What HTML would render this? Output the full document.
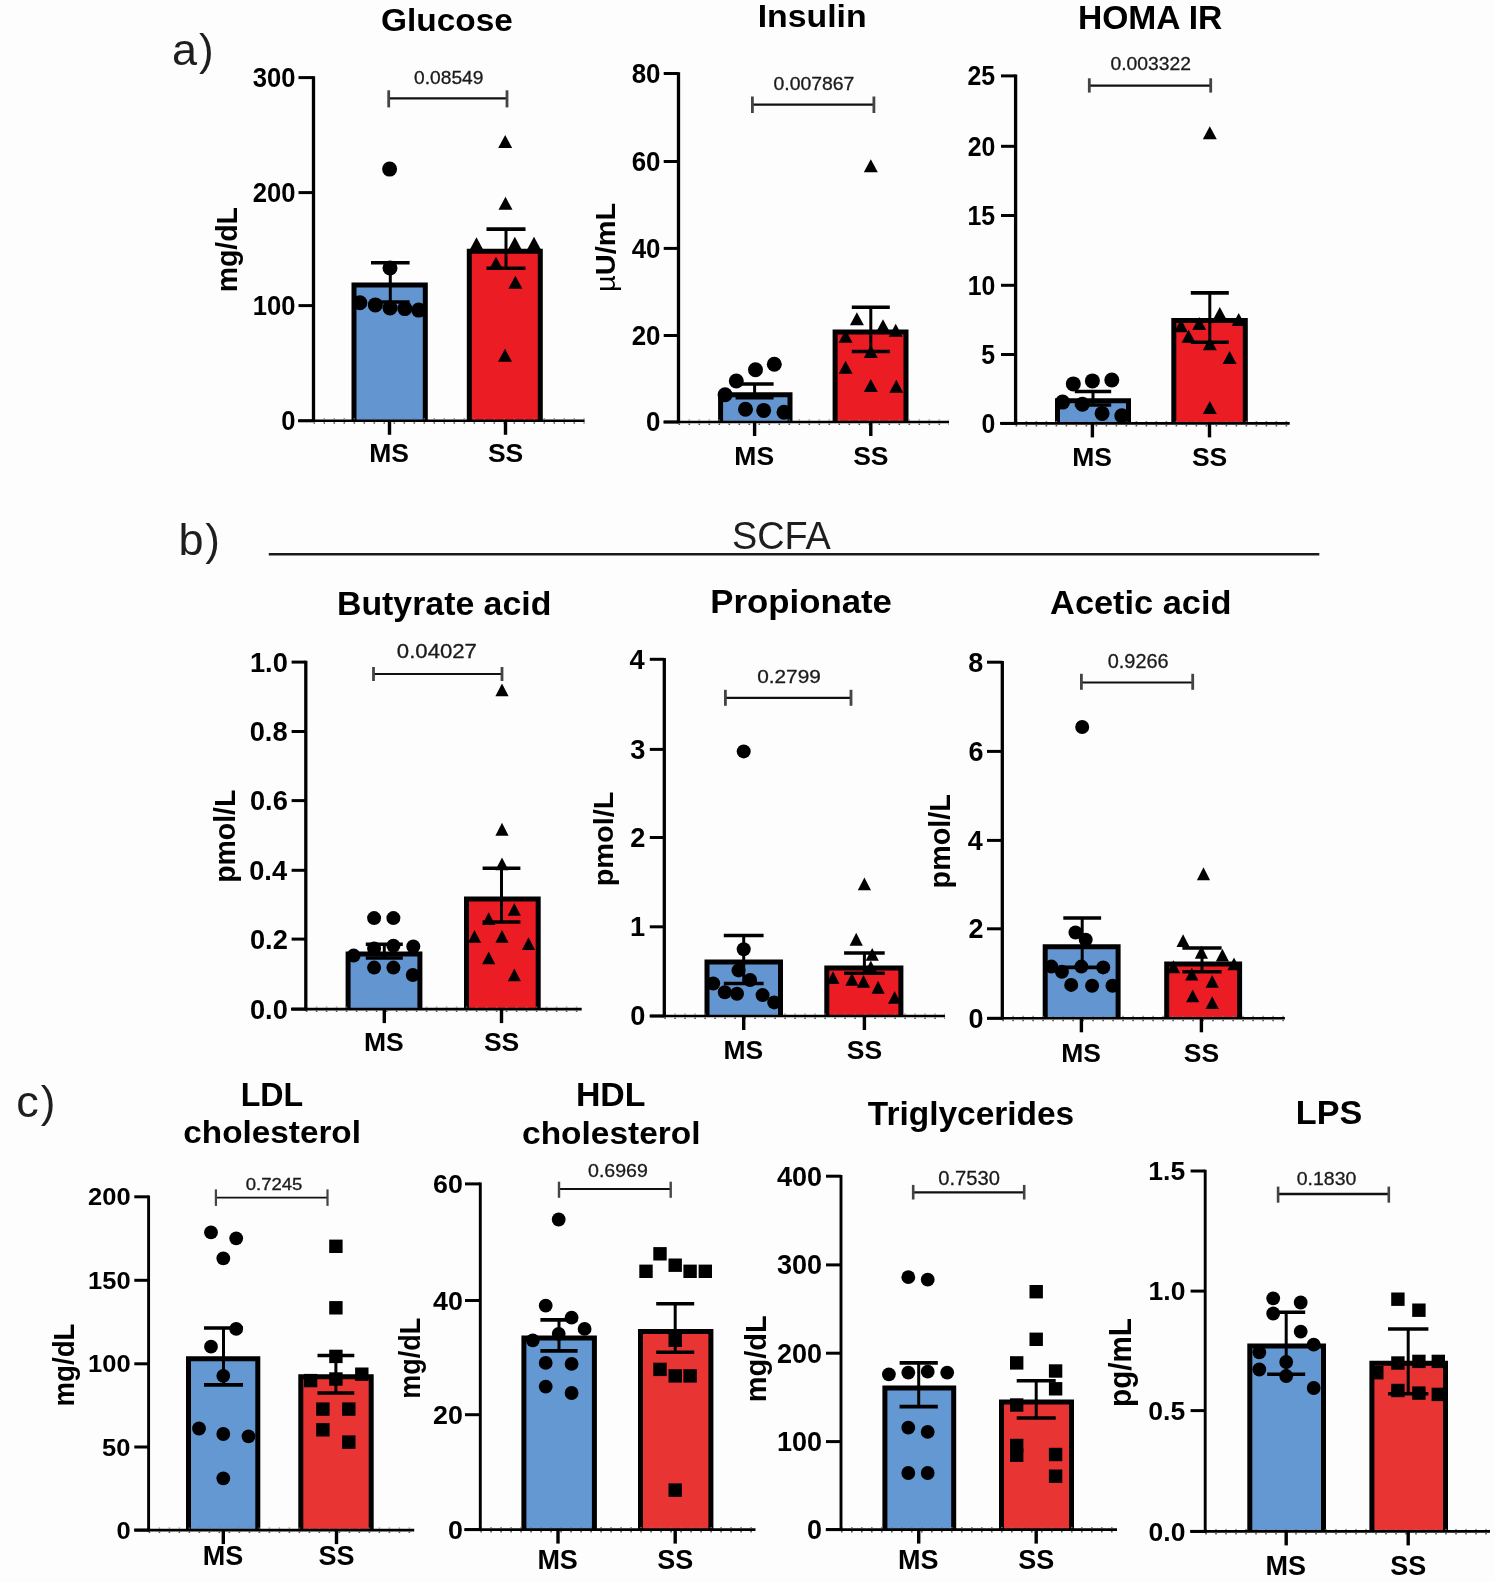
<!DOCTYPE html>
<html><head><meta charset="utf-8"><title>Figure</title>
<style>html,body{margin:0;padding:0;background:#fdfdfd;}body{width:1495px;height:1582px;overflow:hidden;font-family:"Liberation Sans", sans-serif;}svg{display:block;will-change:transform;}</style>
</head><body>
<svg width="1495" height="1582" viewBox="0 0 1495 1582" font-family='"Liberation Sans", sans-serif'>
<rect width="1495" height="1582" fill="#fdfdfd"/>
<text x="172" y="64.6" font-size="45" font-weight="normal" text-anchor="start" fill="#1e1e1e">a</text>
<text x="199" y="64.6" font-size="44" font-weight="normal" text-anchor="start" fill="#1e1e1e">)</text>
<text x="178.6" y="555.2" font-size="45" font-weight="normal" text-anchor="start" fill="#1e1e1e">b</text>
<text x="205.2" y="555.2" font-size="44" font-weight="normal" text-anchor="start" fill="#1e1e1e">)</text>
<text x="16.2" y="1116.6" font-size="45" font-weight="normal" text-anchor="start" fill="#1e1e1e">c</text>
<text x="40.7" y="1116.6" font-size="44" font-weight="normal" text-anchor="start" fill="#1e1e1e">)</text>
<text x="731.99" y="548.8" font-size="38.85" font-weight="normal" fill="#1e1e1e" textLength="98.82" lengthAdjust="spacingAndGlyphs">SCFA</text>
<line x1="268.8" y1="554.2" x2="1319.3" y2="554.2" stroke="#1a1a1a" stroke-width="2.4"/>
<path d="M354 420.8V285H425.3V420.8" fill="#6396d0" stroke="#000" stroke-width="5" stroke-linejoin="miter"/>
<path d="M469.3 420.8V251.3H540.3V420.8" fill="#ec1c24" stroke="#000" stroke-width="5" stroke-linejoin="miter"/>
<line x1="298" y1="420.8" x2="584.6" y2="420.8" stroke="#000" stroke-width="2.6"/>
<line x1="313.5" y1="423" x2="584.6" y2="423" stroke="#555" stroke-width="1.6" stroke-dasharray="1.6 8.4"/>
<line x1="313.5" y1="418.8" x2="584.6" y2="418.8" stroke="#777" stroke-width="1" stroke-dasharray="1.6 8.4"/>
<line x1="313.5" y1="76.3" x2="313.5" y2="422.1" stroke="#000" stroke-width="3.3"/>
<line x1="298.5" y1="77.6" x2="313.5" y2="77.6" stroke="#000" stroke-width="3"/>
<text x="252.7" y="87.05" font-size="27" font-weight="bold" fill="#000" textLength="42.79" lengthAdjust="spacingAndGlyphs">300</text>
<line x1="298.5" y1="192.6" x2="313.5" y2="192.6" stroke="#000" stroke-width="3"/>
<text x="252.7" y="202.05" font-size="27" font-weight="bold" fill="#000" textLength="42.79" lengthAdjust="spacingAndGlyphs">200</text>
<line x1="298.5" y1="305.6" x2="313.5" y2="305.6" stroke="#000" stroke-width="3"/>
<text x="252.7" y="315.05" font-size="27" font-weight="bold" fill="#000" textLength="42.79" lengthAdjust="spacingAndGlyphs">100</text>
<line x1="298.5" y1="420.8" x2="313.5" y2="420.8" stroke="#000" stroke-width="3"/>
<text x="281.2" y="430.25" font-size="27" font-weight="bold" fill="#000" textLength="14.26" lengthAdjust="spacingAndGlyphs">0</text>
<line x1="389.5" y1="420.8" x2="389.5" y2="434.8" stroke="#000" stroke-width="3.4"/>
<text x="369.25" y="462.4" font-size="26.5" font-weight="bold" fill="#000" textLength="39.75" lengthAdjust="spacingAndGlyphs">MS</text>
<line x1="505.5" y1="420.8" x2="505.5" y2="434.8" stroke="#000" stroke-width="3.4"/>
<text x="487.88" y="462.4" font-size="26.5" font-weight="bold" fill="#000" textLength="35.35" lengthAdjust="spacingAndGlyphs">SS</text>
<circle cx="389.6" cy="169.1" r="7.5"/>
<circle cx="390" cy="268" r="7.5"/>
<circle cx="359.9" cy="302.7" r="7.5"/>
<circle cx="375.3" cy="304.9" r="7.5"/>
<circle cx="390" cy="307.9" r="7.5"/>
<circle cx="404.8" cy="308.6" r="7.5"/>
<circle cx="418.7" cy="310.1" r="7.5"/>
<path d="M505.2 135.05L512.2 148.05L498.2 148.05Z"/>
<path d="M505.5 196.85L512.5 209.85L498.5 209.85Z"/>
<path d="M476.5 237.35L483.5 250.35L469.5 250.35Z"/>
<path d="M514.8 236.85L521.8 249.85L507.8 249.85Z"/>
<path d="M534 236.85L541 249.85L527 249.85Z"/>
<path d="M496 256.85L503 269.85L489 269.85Z"/>
<path d="M515.4 275.85L522.4 288.85L508.4 288.85Z"/>
<path d="M505 348.85L512 361.85L498 361.85Z"/>
<line x1="390.3" y1="262.7" x2="390.3" y2="302" stroke="#000" stroke-width="3"/>
<line x1="371" y1="262.7" x2="409.6" y2="262.7" stroke="#000" stroke-width="3.6"/>
<line x1="371" y1="302" x2="409.6" y2="302" stroke="#000" stroke-width="3.6"/>
<line x1="506" y1="229.1" x2="506" y2="268.3" stroke="#000" stroke-width="3"/>
<line x1="486.5" y1="229.1" x2="525.5" y2="229.1" stroke="#000" stroke-width="3.6"/>
<line x1="486.5" y1="268.3" x2="525.5" y2="268.3" stroke="#000" stroke-width="3.6"/>
<line x1="388.7" y1="98.3" x2="507" y2="98.3" stroke="#111" stroke-width="2.2"/>
<line x1="388.7" y1="90.3" x2="388.7" y2="107.4" stroke="#444" stroke-width="2.8"/>
<line x1="507" y1="90.3" x2="507" y2="107.4" stroke="#444" stroke-width="2.8"/>
<text x="414.05" y="83.9" font-size="19.21" font-weight="normal" fill="#1a1a1a" textLength="69.39" lengthAdjust="spacingAndGlyphs" stroke="#1a1a1a" stroke-width="0.3">0.08549</text>
<text x="380.97" y="30.5" font-size="31.45" font-weight="bold" fill="#000" textLength="131.93" lengthAdjust="spacingAndGlyphs">Glucose</text>
<text transform="translate(237 292.33) rotate(-90)" x="0" y="0" font-size="29.52" font-weight="bold" fill="#000" textLength="85.28" lengthAdjust="spacingAndGlyphs">mg/dL</text>
<path d="M720.6 422V394.7H790V422" fill="#6396d0" stroke="#000" stroke-width="5" stroke-linejoin="miter"/>
<path d="M835.1 422V331.9H906V422" fill="#ec1c24" stroke="#000" stroke-width="5" stroke-linejoin="miter"/>
<line x1="663.6" y1="422" x2="949" y2="422" stroke="#000" stroke-width="2.6"/>
<line x1="678.5" y1="424.2" x2="949" y2="424.2" stroke="#555" stroke-width="1.6" stroke-dasharray="1.6 8.4"/>
<line x1="678.5" y1="420" x2="949" y2="420" stroke="#777" stroke-width="1" stroke-dasharray="1.6 8.4"/>
<line x1="678.5" y1="72.2" x2="678.5" y2="423.3" stroke="#000" stroke-width="3.3"/>
<line x1="663.7" y1="73.5" x2="678.5" y2="73.5" stroke="#000" stroke-width="3"/>
<text x="631.66" y="82.95" font-size="27" font-weight="bold" fill="#000" textLength="28.83" lengthAdjust="spacingAndGlyphs">80</text>
<line x1="663.7" y1="161.5" x2="678.5" y2="161.5" stroke="#000" stroke-width="3"/>
<text x="631.66" y="170.95" font-size="27" font-weight="bold" fill="#000" textLength="28.83" lengthAdjust="spacingAndGlyphs">60</text>
<line x1="663.7" y1="248.4" x2="678.5" y2="248.4" stroke="#000" stroke-width="3"/>
<text x="631.66" y="257.85" font-size="27" font-weight="bold" fill="#000" textLength="28.83" lengthAdjust="spacingAndGlyphs">40</text>
<line x1="663.7" y1="335.5" x2="678.5" y2="335.5" stroke="#000" stroke-width="3"/>
<text x="631.66" y="344.95" font-size="27" font-weight="bold" fill="#000" textLength="28.83" lengthAdjust="spacingAndGlyphs">20</text>
<line x1="663.7" y1="422" x2="678.5" y2="422" stroke="#000" stroke-width="3"/>
<text x="646.06" y="431.45" font-size="27" font-weight="bold" fill="#000" textLength="14.41" lengthAdjust="spacingAndGlyphs">0</text>
<line x1="754.6" y1="422" x2="754.6" y2="436" stroke="#000" stroke-width="3.4"/>
<text x="734.35" y="464.5" font-size="26.5" font-weight="bold" fill="#000" textLength="39.75" lengthAdjust="spacingAndGlyphs">MS</text>
<line x1="870.8" y1="422" x2="870.8" y2="436" stroke="#000" stroke-width="3.4"/>
<text x="853.17" y="464.5" font-size="26.5" font-weight="bold" fill="#000" textLength="35.35" lengthAdjust="spacingAndGlyphs">SS</text>
<circle cx="725.1" cy="394.7" r="7.5"/>
<circle cx="736.3" cy="381" r="7.5"/>
<circle cx="755.5" cy="369.8" r="7.5"/>
<circle cx="774.3" cy="364.3" r="7.5"/>
<circle cx="745.5" cy="409.2" r="7.5"/>
<circle cx="763.7" cy="410.4" r="7.5"/>
<circle cx="784" cy="412.3" r="7.5"/>
<path d="M870.8 159.25L877.8 172.25L863.8 172.25Z"/>
<path d="M856.9 312.25L863.9 325.25L849.9 325.25Z"/>
<path d="M883 319.25L890 332.25L876 332.25Z"/>
<path d="M895.7 323.85L902.7 336.85L888.7 336.85Z"/>
<path d="M845.6 329.85L852.6 342.85L838.6 342.85Z"/>
<path d="M870.8 345.05L877.8 358.05L863.8 358.05Z"/>
<path d="M845.6 360.75L852.6 373.75L838.6 373.75Z"/>
<path d="M870.8 379.05L877.8 392.05L863.8 392.05Z"/>
<path d="M896.3 379.85L903.3 392.85L889.3 392.85Z"/>
<line x1="754.6" y1="384" x2="754.6" y2="397.7" stroke="#000" stroke-width="3"/>
<line x1="735.6" y1="384" x2="773.6" y2="384" stroke="#000" stroke-width="3.6"/>
<line x1="735.6" y1="397.7" x2="773.6" y2="397.7" stroke="#000" stroke-width="3.6"/>
<line x1="870.8" y1="307.2" x2="870.8" y2="351.5" stroke="#000" stroke-width="3"/>
<line x1="851.8" y1="307.2" x2="889.8" y2="307.2" stroke="#000" stroke-width="3.6"/>
<line x1="851.8" y1="351.5" x2="889.8" y2="351.5" stroke="#000" stroke-width="3.6"/>
<line x1="752.4" y1="104.7" x2="873.9" y2="104.7" stroke="#111" stroke-width="2.2"/>
<line x1="752.4" y1="96.5" x2="752.4" y2="113" stroke="#444" stroke-width="2.8"/>
<line x1="873.9" y1="96.5" x2="873.9" y2="113" stroke="#444" stroke-width="2.8"/>
<text x="773.47" y="89.6" font-size="17.49" font-weight="normal" fill="#1a1a1a" textLength="80.84" lengthAdjust="spacingAndGlyphs" stroke="#1a1a1a" stroke-width="0.3">0.007867</text>
<text x="757.67" y="26.8" font-size="31.86" font-weight="bold" fill="#000" textLength="108.95" lengthAdjust="spacingAndGlyphs">Insulin</text>
<text transform="translate(615 292) rotate(-90)" x="0" y="0" font-size="26.76" font-weight="bold" fill="#000" textLength="89.25" lengthAdjust="spacingAndGlyphs"><tspan font-weight="normal">µ</tspan>U/mL</text>
<path d="M1057.5 423.4V400.7H1128.5V423.4" fill="#6396d0" stroke="#000" stroke-width="5" stroke-linejoin="miter"/>
<path d="M1173.8 423.4V320.5H1245.3V423.4" fill="#ec1c24" stroke="#000" stroke-width="5" stroke-linejoin="miter"/>
<line x1="1000" y1="423.4" x2="1289.7" y2="423.4" stroke="#000" stroke-width="2.6"/>
<line x1="1015.6" y1="425.6" x2="1289.7" y2="425.6" stroke="#555" stroke-width="1.6" stroke-dasharray="1.6 8.4"/>
<line x1="1015.6" y1="421.4" x2="1289.7" y2="421.4" stroke="#777" stroke-width="1" stroke-dasharray="1.6 8.4"/>
<line x1="1015.6" y1="74.6" x2="1015.6" y2="424.7" stroke="#000" stroke-width="3.3"/>
<line x1="1001" y1="75.9" x2="1015.6" y2="75.9" stroke="#000" stroke-width="3"/>
<text x="967.49" y="85.35" font-size="27" font-weight="bold" fill="#000" textLength="27.63" lengthAdjust="spacingAndGlyphs">25</text>
<line x1="1001" y1="146.3" x2="1015.6" y2="146.3" stroke="#000" stroke-width="3"/>
<text x="967.72" y="155.75" font-size="27" font-weight="bold" fill="#000" textLength="27.63" lengthAdjust="spacingAndGlyphs">20</text>
<line x1="1001" y1="215.5" x2="1015.6" y2="215.5" stroke="#000" stroke-width="3"/>
<text x="967.49" y="224.95" font-size="27" font-weight="bold" fill="#000" textLength="27.63" lengthAdjust="spacingAndGlyphs">15</text>
<line x1="1001" y1="285.3" x2="1015.6" y2="285.3" stroke="#000" stroke-width="3"/>
<text x="967.72" y="294.75" font-size="27" font-weight="bold" fill="#000" textLength="27.63" lengthAdjust="spacingAndGlyphs">10</text>
<line x1="1001" y1="354.5" x2="1015.6" y2="354.5" stroke="#000" stroke-width="3"/>
<text x="981.29" y="363.95" font-size="27" font-weight="bold" fill="#000" textLength="13.81" lengthAdjust="spacingAndGlyphs">5</text>
<line x1="1001" y1="423.4" x2="1015.6" y2="423.4" stroke="#000" stroke-width="3"/>
<text x="981.52" y="432.85" font-size="27" font-weight="bold" fill="#000" textLength="13.81" lengthAdjust="spacingAndGlyphs">0</text>
<line x1="1092.4" y1="423.4" x2="1092.4" y2="437.4" stroke="#000" stroke-width="3.4"/>
<text x="1072.15" y="465.9" font-size="26.5" font-weight="bold" fill="#000" textLength="39.75" lengthAdjust="spacingAndGlyphs">MS</text>
<line x1="1209.5" y1="423.4" x2="1209.5" y2="437.4" stroke="#000" stroke-width="3.4"/>
<text x="1191.88" y="465.9" font-size="26.5" font-weight="bold" fill="#000" textLength="35.35" lengthAdjust="spacingAndGlyphs">SS</text>
<circle cx="1073.3" cy="383.9" r="7.5"/>
<circle cx="1092.4" cy="380.9" r="7.5"/>
<circle cx="1111.8" cy="380" r="7.5"/>
<circle cx="1062.6" cy="402.1" r="7.5"/>
<circle cx="1082.4" cy="404.3" r="7.5"/>
<circle cx="1102.1" cy="413.4" r="7.5"/>
<circle cx="1121.8" cy="415.8" r="7.5"/>
<path d="M1209.8 126.35L1216.8 139.35L1202.8 139.35Z"/>
<path d="M1219.8 306.95L1226.8 319.95L1212.8 319.95Z"/>
<path d="M1238.7 313.05L1245.7 326.05L1231.7 326.05Z"/>
<path d="M1181 319.15L1188 332.15L1174 332.15Z"/>
<path d="M1199.2 316.95L1206.2 329.95L1192.2 329.95Z"/>
<path d="M1188.6 329.75L1195.6 342.75L1181.6 342.75Z"/>
<path d="M1209.8 337.35L1216.8 350.35L1202.8 350.35Z"/>
<path d="M1229.6 350.95L1236.6 363.95L1222.6 363.95Z"/>
<path d="M1209.8 401.05L1216.8 414.05L1202.8 414.05Z"/>
<line x1="1093" y1="391.5" x2="1093" y2="405" stroke="#000" stroke-width="3"/>
<line x1="1074.8" y1="391.5" x2="1111.2" y2="391.5" stroke="#000" stroke-width="3.6"/>
<line x1="1074.8" y1="405" x2="1111.2" y2="405" stroke="#000" stroke-width="3.6"/>
<line x1="1209.8" y1="292.9" x2="1209.8" y2="342.3" stroke="#000" stroke-width="3"/>
<line x1="1190.8" y1="292.9" x2="1228.8" y2="292.9" stroke="#000" stroke-width="3.6"/>
<line x1="1190.8" y1="342.3" x2="1228.8" y2="342.3" stroke="#000" stroke-width="3.6"/>
<line x1="1089.3" y1="85.6" x2="1210.7" y2="85.6" stroke="#111" stroke-width="2.2"/>
<line x1="1089.3" y1="78.3" x2="1089.3" y2="92.6" stroke="#444" stroke-width="2.8"/>
<line x1="1210.7" y1="78.3" x2="1210.7" y2="92.6" stroke="#444" stroke-width="2.8"/>
<text x="1110.41" y="70.4" font-size="18.21" font-weight="normal" fill="#1a1a1a" textLength="80.5" lengthAdjust="spacingAndGlyphs" stroke="#1a1a1a" stroke-width="0.3">0.003322</text>
<text x="1077.93" y="29.1" font-size="33.26" font-weight="bold" fill="#000" textLength="144.32" lengthAdjust="spacingAndGlyphs">HOMA IR</text>
<path d="M348.1 1009.1V953.9H419.9V1009.1" fill="#6396d0" stroke="#000" stroke-width="5" stroke-linejoin="miter"/>
<path d="M466.5 1009.1V899H538.2V1009.1" fill="#ec1c24" stroke="#000" stroke-width="5" stroke-linejoin="miter"/>
<line x1="291" y1="1009.1" x2="581.7" y2="1009.1" stroke="#000" stroke-width="2.6"/>
<line x1="305.8" y1="1011.3" x2="581.7" y2="1011.3" stroke="#555" stroke-width="1.6" stroke-dasharray="1.6 8.4"/>
<line x1="305.8" y1="1007.1" x2="581.7" y2="1007.1" stroke="#777" stroke-width="1" stroke-dasharray="1.6 8.4"/>
<line x1="305.8" y1="660.8" x2="305.8" y2="1010.4" stroke="#000" stroke-width="3.3"/>
<line x1="291.6" y1="662.1" x2="305.8" y2="662.1" stroke="#000" stroke-width="3"/>
<text x="249.94" y="671.55" font-size="27" font-weight="bold" fill="#000" textLength="37.91" lengthAdjust="spacingAndGlyphs">1.0</text>
<line x1="291.6" y1="731.5" x2="305.8" y2="731.5" stroke="#000" stroke-width="3"/>
<text x="249.68" y="740.95" font-size="27" font-weight="bold" fill="#000" textLength="37.91" lengthAdjust="spacingAndGlyphs">0.8</text>
<line x1="291.6" y1="800.6" x2="305.8" y2="800.6" stroke="#000" stroke-width="3"/>
<text x="249.94" y="810.05" font-size="27" font-weight="bold" fill="#000" textLength="37.91" lengthAdjust="spacingAndGlyphs">0.6</text>
<line x1="291.6" y1="870.3" x2="305.8" y2="870.3" stroke="#000" stroke-width="3"/>
<text x="249.18" y="879.75" font-size="27" font-weight="bold" fill="#000" textLength="37.91" lengthAdjust="spacingAndGlyphs">0.4</text>
<line x1="291.6" y1="939.1" x2="305.8" y2="939.1" stroke="#000" stroke-width="3"/>
<text x="249.94" y="948.55" font-size="27" font-weight="bold" fill="#000" textLength="37.91" lengthAdjust="spacingAndGlyphs">0.2</text>
<line x1="291.6" y1="1009.1" x2="305.8" y2="1009.1" stroke="#000" stroke-width="3"/>
<text x="249.94" y="1018.55" font-size="27" font-weight="bold" fill="#000" textLength="37.91" lengthAdjust="spacingAndGlyphs">0.0</text>
<line x1="384.3" y1="1009.1" x2="384.3" y2="1023.1" stroke="#000" stroke-width="3.4"/>
<text x="364.05" y="1050.9" font-size="26.5" font-weight="bold" fill="#000" textLength="39.75" lengthAdjust="spacingAndGlyphs">MS</text>
<line x1="501.5" y1="1009.1" x2="501.5" y2="1023.1" stroke="#000" stroke-width="3.4"/>
<text x="483.88" y="1050.9" font-size="26.5" font-weight="bold" fill="#000" textLength="35.35" lengthAdjust="spacingAndGlyphs">SS</text>
<circle cx="374.1" cy="918.1" r="7"/>
<circle cx="393.4" cy="918.1" r="7"/>
<circle cx="353.6" cy="955.6" r="7"/>
<circle cx="374.1" cy="948.5" r="7"/>
<circle cx="393.4" cy="945.7" r="7"/>
<circle cx="413.3" cy="946.5" r="7"/>
<circle cx="374.1" cy="967.6" r="7"/>
<circle cx="393.4" cy="967.6" r="7"/>
<circle cx="412.8" cy="975" r="7"/>
<path d="M502 683.46L508.6 696.26L495.4 696.26Z"/>
<path d="M502 822.86L508.6 835.66L495.4 835.66Z"/>
<path d="M502 857.56L508.6 870.36L495.4 870.36Z"/>
<path d="M514.3 903.06L520.9 915.86L507.7 915.86Z"/>
<path d="M488.7 912.16L495.3 924.96L482.1 924.96Z"/>
<path d="M474.5 930.06L481.1 942.86L467.9 942.86Z"/>
<path d="M502 930.06L508.6 942.86L495.4 942.86Z"/>
<path d="M528.5 937.26L535.1 950.06L521.9 950.06Z"/>
<path d="M488.7 951.46L495.3 964.26L482.1 964.26Z"/>
<path d="M514.3 968.46L520.9 981.26L507.7 981.26Z"/>
<line x1="384.3" y1="944.2" x2="384.3" y2="958" stroke="#000" stroke-width="3"/>
<line x1="365.8" y1="944.2" x2="402.8" y2="944.2" stroke="#000" stroke-width="3.6"/>
<line x1="365.8" y1="958" x2="402.8" y2="958" stroke="#000" stroke-width="3.6"/>
<line x1="501.5" y1="868.3" x2="501.5" y2="922" stroke="#000" stroke-width="3"/>
<line x1="482.6" y1="868.3" x2="520.4" y2="868.3" stroke="#000" stroke-width="3.6"/>
<line x1="482.6" y1="922" x2="520.4" y2="922" stroke="#000" stroke-width="3.6"/>
<line x1="373.5" y1="674" x2="502" y2="674" stroke="#111" stroke-width="2.2"/>
<line x1="373.5" y1="667" x2="373.5" y2="681" stroke="#444" stroke-width="2.8"/>
<line x1="502" y1="667" x2="502" y2="681" stroke="#444" stroke-width="2.8"/>
<text x="396.88" y="658.4" font-size="20.36" font-weight="normal" fill="#1a1a1a" textLength="80.05" lengthAdjust="spacingAndGlyphs" stroke="#1a1a1a" stroke-width="0.3">0.04027</text>
<text x="336.96" y="615.1" font-size="33.93" font-weight="bold" fill="#000" textLength="214.39" lengthAdjust="spacingAndGlyphs">Butyrate acid</text>
<text transform="translate(235.3 882.78) rotate(-90)" x="0" y="0" font-size="28.83" font-weight="bold" fill="#000" textLength="93.09" lengthAdjust="spacingAndGlyphs">pmol/L</text>
<path d="M707 1016V962.1H780.5V1016" fill="#6396d0" stroke="#000" stroke-width="5" stroke-linejoin="miter"/>
<path d="M826.8 1016V968H900.9V1016" fill="#ec1c24" stroke="#000" stroke-width="5" stroke-linejoin="miter"/>
<line x1="649.8" y1="1016" x2="945" y2="1016" stroke="#000" stroke-width="2.6"/>
<line x1="664.3" y1="1018.2" x2="945" y2="1018.2" stroke="#555" stroke-width="1.6" stroke-dasharray="1.6 8.4"/>
<line x1="664.3" y1="1014" x2="945" y2="1014" stroke="#777" stroke-width="1" stroke-dasharray="1.6 8.4"/>
<line x1="664.3" y1="658" x2="664.3" y2="1017.3" stroke="#000" stroke-width="3.3"/>
<line x1="649.8" y1="659.3" x2="664.3" y2="659.3" stroke="#000" stroke-width="3"/>
<text x="629.6" y="668.75" font-size="27" font-weight="bold" fill="#000" textLength="15.17" lengthAdjust="spacingAndGlyphs">4</text>
<line x1="649.8" y1="749.4" x2="664.3" y2="749.4" stroke="#000" stroke-width="3"/>
<text x="630.36" y="758.85" font-size="27" font-weight="bold" fill="#000" textLength="15.17" lengthAdjust="spacingAndGlyphs">3</text>
<line x1="649.8" y1="837.5" x2="664.3" y2="837.5" stroke="#000" stroke-width="3"/>
<text x="630.36" y="846.95" font-size="27" font-weight="bold" fill="#000" textLength="15.17" lengthAdjust="spacingAndGlyphs">2</text>
<line x1="649.8" y1="926.8" x2="664.3" y2="926.8" stroke="#000" stroke-width="3"/>
<text x="630.11" y="936.25" font-size="27" font-weight="bold" fill="#000" textLength="15.17" lengthAdjust="spacingAndGlyphs">1</text>
<line x1="649.8" y1="1016" x2="664.3" y2="1016" stroke="#000" stroke-width="3"/>
<text x="630.36" y="1025.45" font-size="27" font-weight="bold" fill="#000" textLength="15.17" lengthAdjust="spacingAndGlyphs">0</text>
<line x1="743.7" y1="1016" x2="743.7" y2="1030" stroke="#000" stroke-width="3.4"/>
<text x="723.45" y="1059.1" font-size="26.5" font-weight="bold" fill="#000" textLength="39.75" lengthAdjust="spacingAndGlyphs">MS</text>
<line x1="864.4" y1="1016" x2="864.4" y2="1030" stroke="#000" stroke-width="3.4"/>
<text x="846.77" y="1059.1" font-size="26.5" font-weight="bold" fill="#000" textLength="35.35" lengthAdjust="spacingAndGlyphs">SS</text>
<circle cx="743.7" cy="751.4" r="7"/>
<circle cx="743.7" cy="949.2" r="7"/>
<circle cx="738.5" cy="970.4" r="7"/>
<circle cx="750.1" cy="980" r="7"/>
<circle cx="713.2" cy="983.5" r="7"/>
<circle cx="724.8" cy="992.2" r="7"/>
<circle cx="737" cy="993.7" r="7"/>
<circle cx="762.6" cy="995.1" r="7"/>
<circle cx="774.2" cy="1002.4" r="7"/>
<path d="M864.4 877.56L871 890.36L857.8 890.36Z"/>
<path d="M856.2 932.86L862.8 945.66L849.6 945.66Z"/>
<path d="M872.2 947.96L878.8 960.76L865.6 960.76Z"/>
<path d="M833 971.26L839.6 984.06L826.4 984.06Z"/>
<path d="M851.9 972.96L858.5 985.76L845.3 985.76Z"/>
<path d="M863.5 974.96L870.1 987.76L856.9 987.76Z"/>
<path d="M878.1 980.86L884.7 993.66L871.5 993.66Z"/>
<path d="M894.6 990.96L901.2 1003.76L888 1003.76Z"/>
<path d="M870.8 960.46L877.4 973.26L864.2 973.26Z"/>
<line x1="743.7" y1="935.5" x2="743.7" y2="983.5" stroke="#000" stroke-width="3"/>
<line x1="723.8" y1="935.5" x2="763.6" y2="935.5" stroke="#000" stroke-width="3.6"/>
<line x1="723.8" y1="983.5" x2="763.6" y2="983.5" stroke="#000" stroke-width="3.6"/>
<line x1="864.4" y1="953" x2="864.4" y2="973.3" stroke="#000" stroke-width="3"/>
<line x1="844.1" y1="953" x2="884.7" y2="953" stroke="#000" stroke-width="3.6"/>
<line x1="844.1" y1="973.3" x2="884.7" y2="973.3" stroke="#000" stroke-width="3.6"/>
<line x1="725.4" y1="697.9" x2="851" y2="697.9" stroke="#111" stroke-width="2.2"/>
<line x1="725.4" y1="689.8" x2="725.4" y2="705.8" stroke="#444" stroke-width="2.8"/>
<line x1="851" y1="689.8" x2="851" y2="705.8" stroke="#444" stroke-width="2.8"/>
<text x="757.17" y="682.5" font-size="18.78" font-weight="normal" fill="#1a1a1a" textLength="63.69" lengthAdjust="spacingAndGlyphs" stroke="#1a1a1a" stroke-width="0.3">0.2799</text>
<text x="710.26" y="612.9" font-size="33.38" font-weight="bold" fill="#000" textLength="181.7" lengthAdjust="spacingAndGlyphs">Propionate</text>
<text transform="translate(613.2 886.33) rotate(-90)" x="0" y="0" font-size="28.41" font-weight="bold" fill="#000" textLength="94.75" lengthAdjust="spacingAndGlyphs">pmol/L</text>
<path d="M1045.2 1018.3V946.7H1118.1V1018.3" fill="#6396d0" stroke="#000" stroke-width="5" stroke-linejoin="miter"/>
<path d="M1166.7 1018.3V964.1H1239.6V1018.3" fill="#ec1c24" stroke="#000" stroke-width="5" stroke-linejoin="miter"/>
<line x1="987" y1="1018.3" x2="1284.9" y2="1018.3" stroke="#000" stroke-width="2.6"/>
<line x1="1002.3" y1="1020.5" x2="1284.9" y2="1020.5" stroke="#555" stroke-width="1.6" stroke-dasharray="1.6 8.4"/>
<line x1="1002.3" y1="1016.3" x2="1284.9" y2="1016.3" stroke="#777" stroke-width="1" stroke-dasharray="1.6 8.4"/>
<line x1="1002.3" y1="660.9" x2="1002.3" y2="1019.6" stroke="#000" stroke-width="3.3"/>
<line x1="987" y1="662.2" x2="1002.3" y2="662.2" stroke="#000" stroke-width="3"/>
<text x="968.25" y="671.65" font-size="27" font-weight="bold" fill="#000" textLength="15.02" lengthAdjust="spacingAndGlyphs">8</text>
<line x1="987" y1="751.4" x2="1002.3" y2="751.4" stroke="#000" stroke-width="3"/>
<text x="968.5" y="760.85" font-size="27" font-weight="bold" fill="#000" textLength="15.02" lengthAdjust="spacingAndGlyphs">6</text>
<line x1="987" y1="840.4" x2="1002.3" y2="840.4" stroke="#000" stroke-width="3"/>
<text x="967.75" y="849.85" font-size="27" font-weight="bold" fill="#000" textLength="15.02" lengthAdjust="spacingAndGlyphs">4</text>
<line x1="987" y1="928.8" x2="1002.3" y2="928.8" stroke="#000" stroke-width="3"/>
<text x="968.5" y="938.25" font-size="27" font-weight="bold" fill="#000" textLength="15.02" lengthAdjust="spacingAndGlyphs">2</text>
<line x1="987" y1="1018.3" x2="1002.3" y2="1018.3" stroke="#000" stroke-width="3"/>
<text x="968.5" y="1027.75" font-size="27" font-weight="bold" fill="#000" textLength="15.02" lengthAdjust="spacingAndGlyphs">0</text>
<line x1="1081.4" y1="1018.3" x2="1081.4" y2="1032.3" stroke="#000" stroke-width="3.4"/>
<text x="1061.15" y="1062" font-size="26.5" font-weight="bold" fill="#000" textLength="39.75" lengthAdjust="spacingAndGlyphs">MS</text>
<line x1="1201.4" y1="1018.3" x2="1201.4" y2="1032.3" stroke="#000" stroke-width="3.4"/>
<text x="1183.78" y="1062" font-size="26.5" font-weight="bold" fill="#000" textLength="35.35" lengthAdjust="spacingAndGlyphs">SS</text>
<circle cx="1082.2" cy="727" r="7"/>
<circle cx="1075.5" cy="932.5" r="7"/>
<circle cx="1085.7" cy="939.8" r="7"/>
<circle cx="1051.4" cy="966.6" r="7"/>
<circle cx="1061.9" cy="971.8" r="7"/>
<circle cx="1081.4" cy="966.6" r="7"/>
<circle cx="1103.2" cy="967.4" r="7"/>
<circle cx="1071.2" cy="984.9" r="7"/>
<circle cx="1092.1" cy="985.8" r="7"/>
<circle cx="1112.5" cy="985.8" r="7"/>
<path d="M1203.5 867.36L1210.1 880.16L1196.9 880.16Z"/>
<path d="M1183.1 934.26L1189.7 947.06L1176.5 947.06Z"/>
<path d="M1201.4 945.86L1208 958.66L1194.8 958.66Z"/>
<path d="M1222.4 948.76L1229 961.56L1215.8 961.56Z"/>
<path d="M1234 957.46L1240.6 970.26L1227.4 970.26Z"/>
<path d="M1173.5 960.36L1180.1 973.16L1166.9 973.16Z"/>
<path d="M1191.8 967.66L1198.4 980.46L1185.2 980.46Z"/>
<path d="M1212.2 974.96L1218.8 987.76L1205.6 987.76Z"/>
<path d="M1192.7 989.46L1199.3 1002.26L1186.1 1002.26Z"/>
<path d="M1212.2 996.16L1218.8 1008.96L1205.6 1008.96Z"/>
<line x1="1082.2" y1="918" x2="1082.2" y2="967.4" stroke="#000" stroke-width="3"/>
<line x1="1063.3" y1="918" x2="1101.1" y2="918" stroke="#000" stroke-width="3.6"/>
<line x1="1063.3" y1="967.4" x2="1101.1" y2="967.4" stroke="#000" stroke-width="3.6"/>
<line x1="1202" y1="948" x2="1202" y2="971.8" stroke="#000" stroke-width="3"/>
<line x1="1182.4" y1="948" x2="1221.6" y2="948" stroke="#000" stroke-width="3.6"/>
<line x1="1182.4" y1="971.8" x2="1221.6" y2="971.8" stroke="#000" stroke-width="3.6"/>
<line x1="1081.4" y1="682.5" x2="1192.7" y2="682.5" stroke="#111" stroke-width="2.2"/>
<line x1="1081.4" y1="673.8" x2="1081.4" y2="689.8" stroke="#444" stroke-width="2.8"/>
<line x1="1192.7" y1="673.8" x2="1192.7" y2="689.8" stroke="#444" stroke-width="2.8"/>
<text x="1107.69" y="668" font-size="20.93" font-weight="normal" fill="#1a1a1a" textLength="60.95" lengthAdjust="spacingAndGlyphs" stroke="#1a1a1a" stroke-width="0.3">0.9266</text>
<text x="1050.09" y="614" font-size="33.93" font-weight="bold" fill="#000" textLength="181.42" lengthAdjust="spacingAndGlyphs">Acetic acid</text>
<text transform="translate(950.3 888.4) rotate(-90)" x="0" y="0" font-size="28.83" font-weight="bold" fill="#000" textLength="94.12" lengthAdjust="spacingAndGlyphs">pmol/L</text>
<path d="M188.5 1530.1V1358.7H257.8V1530.1" fill="#6398d2" stroke="#000" stroke-width="5" stroke-linejoin="miter"/>
<path d="M300.8 1530.1V1376.7H371.2V1530.1" fill="#e93434" stroke="#000" stroke-width="5" stroke-linejoin="miter"/>
<line x1="134.3" y1="1530.1" x2="414.2" y2="1530.1" stroke="#000" stroke-width="2.6"/>
<line x1="148.6" y1="1532.3" x2="414.2" y2="1532.3" stroke="#555" stroke-width="1.6" stroke-dasharray="1.6 8.4"/>
<line x1="148.6" y1="1528.1" x2="414.2" y2="1528.1" stroke="#777" stroke-width="1" stroke-dasharray="1.6 8.4"/>
<line x1="148.6" y1="1195.5" x2="148.6" y2="1531.4" stroke="#000" stroke-width="2.9"/>
<line x1="134.3" y1="1196.8" x2="148.6" y2="1196.8" stroke="#000" stroke-width="3"/>
<text x="88.06" y="1205.38" font-size="24.5" font-weight="bold" fill="#000" textLength="42.51" lengthAdjust="spacingAndGlyphs">200</text>
<line x1="134.3" y1="1280.3" x2="148.6" y2="1280.3" stroke="#000" stroke-width="3"/>
<text x="88.06" y="1288.88" font-size="24.5" font-weight="bold" fill="#000" textLength="42.51" lengthAdjust="spacingAndGlyphs">150</text>
<line x1="134.3" y1="1363.8" x2="148.6" y2="1363.8" stroke="#000" stroke-width="3"/>
<text x="88.06" y="1372.38" font-size="24.5" font-weight="bold" fill="#000" textLength="42.51" lengthAdjust="spacingAndGlyphs">100</text>
<line x1="134.3" y1="1447" x2="148.6" y2="1447" stroke="#000" stroke-width="3"/>
<text x="102.1" y="1455.58" font-size="24.5" font-weight="bold" fill="#000" textLength="28.34" lengthAdjust="spacingAndGlyphs">50</text>
<line x1="134.3" y1="1530.1" x2="148.6" y2="1530.1" stroke="#000" stroke-width="3"/>
<text x="116.4" y="1538.67" font-size="24.5" font-weight="bold" fill="#000" textLength="14.17" lengthAdjust="spacingAndGlyphs">0</text>
<line x1="223.3" y1="1530.1" x2="223.3" y2="1544.1" stroke="#000" stroke-width="3.4"/>
<text x="202.68" y="1565.1" font-size="27" font-weight="bold" fill="#000" textLength="40.5" lengthAdjust="spacingAndGlyphs">MS</text>
<line x1="336.5" y1="1530.1" x2="336.5" y2="1544.1" stroke="#000" stroke-width="3.4"/>
<text x="318.62" y="1565.1" font-size="27" font-weight="bold" fill="#000" textLength="36.02" lengthAdjust="spacingAndGlyphs">SS</text>
<circle cx="211" cy="1232.4" r="6.9"/>
<circle cx="236.2" cy="1238.3" r="6.9"/>
<circle cx="223.3" cy="1258.3" r="6.9"/>
<circle cx="236.2" cy="1328.9" r="6.9"/>
<circle cx="211" cy="1346.7" r="6.9"/>
<circle cx="223.3" cy="1375.8" r="6.9"/>
<circle cx="199" cy="1428.5" r="6.9"/>
<circle cx="223.3" cy="1434" r="6.9"/>
<circle cx="248.5" cy="1436.3" r="6.9"/>
<circle cx="223.3" cy="1478.3" r="6.9"/>
<rect x="329.2" y="1239.6" width="13.4" height="13.4"/>
<rect x="329.2" y="1301.1" width="13.4" height="13.4"/>
<rect x="329.2" y="1349.7" width="13.4" height="13.4"/>
<rect x="355.1" y="1367.5" width="13.4" height="13.4"/>
<rect x="303.9" y="1373.9" width="13.4" height="13.4"/>
<rect x="329.2" y="1372.3" width="13.4" height="13.4"/>
<rect x="316.2" y="1402.4" width="13.4" height="13.4"/>
<rect x="342.1" y="1402.4" width="13.4" height="13.4"/>
<rect x="316.2" y="1423.1" width="13.4" height="13.4"/>
<rect x="342.1" y="1435.4" width="13.4" height="13.4"/>
<line x1="223.5" y1="1328" x2="223.5" y2="1384.9" stroke="#000" stroke-width="3"/>
<line x1="204" y1="1328" x2="243" y2="1328" stroke="#000" stroke-width="3.6"/>
<line x1="204" y1="1384.9" x2="243" y2="1384.9" stroke="#000" stroke-width="3.6"/>
<line x1="335.9" y1="1355.5" x2="335.9" y2="1393" stroke="#000" stroke-width="3"/>
<line x1="317.5" y1="1355.5" x2="354.3" y2="1355.5" stroke="#000" stroke-width="3.6"/>
<line x1="317.5" y1="1393" x2="354.3" y2="1393" stroke="#000" stroke-width="3.6"/>
<line x1="215.9" y1="1197.6" x2="327.5" y2="1197.6" stroke="#111" stroke-width="1.8"/>
<line x1="215.9" y1="1189.4" x2="215.9" y2="1205.9" stroke="#444" stroke-width="2.2"/>
<line x1="327.5" y1="1189.4" x2="327.5" y2="1205.9" stroke="#444" stroke-width="2.2"/>
<text x="245.75" y="1189.7" font-size="16.2" font-weight="normal" fill="#1a1a1a" textLength="56.67" lengthAdjust="spacingAndGlyphs" stroke="#1a1a1a" stroke-width="0.3">0.7245</text>
<text x="240.74" y="1106" font-size="33.45" font-weight="bold" fill="#000" textLength="62.5" lengthAdjust="spacingAndGlyphs">LDL</text>
<text x="183.37" y="1143.2" font-size="31.31" font-weight="bold" fill="#000" textLength="177.6" lengthAdjust="spacingAndGlyphs">cholesterol</text>
<text transform="translate(74.1 1406.52) rotate(-90)" x="0" y="0" font-size="28.83" font-weight="bold" fill="#000" textLength="82.93" lengthAdjust="spacingAndGlyphs">mg/dL</text>
<path d="M523.9 1529.6V1337.9H594.4V1529.6" fill="#6398d2" stroke="#000" stroke-width="5" stroke-linejoin="miter"/>
<path d="M640.5 1529.6V1331.4H710.9V1529.6" fill="#e93434" stroke="#000" stroke-width="5" stroke-linejoin="miter"/>
<line x1="464.2" y1="1529.6" x2="755.5" y2="1529.6" stroke="#000" stroke-width="2.6"/>
<line x1="480.3" y1="1531.8" x2="755.5" y2="1531.8" stroke="#555" stroke-width="1.6" stroke-dasharray="1.6 8.4"/>
<line x1="480.3" y1="1527.6" x2="755.5" y2="1527.6" stroke="#777" stroke-width="1" stroke-dasharray="1.6 8.4"/>
<line x1="480.3" y1="1182.6" x2="480.3" y2="1530.9" stroke="#000" stroke-width="2.9"/>
<line x1="465" y1="1183.9" x2="480.3" y2="1183.9" stroke="#000" stroke-width="3"/>
<text x="433.06" y="1193" font-size="26" font-weight="bold" fill="#000" textLength="29.79" lengthAdjust="spacingAndGlyphs">60</text>
<line x1="465" y1="1300.5" x2="480.3" y2="1300.5" stroke="#000" stroke-width="3"/>
<text x="433.06" y="1309.6" font-size="26" font-weight="bold" fill="#000" textLength="29.79" lengthAdjust="spacingAndGlyphs">40</text>
<line x1="465" y1="1414.7" x2="480.3" y2="1414.7" stroke="#000" stroke-width="3"/>
<text x="433.06" y="1423.8" font-size="26" font-weight="bold" fill="#000" textLength="29.79" lengthAdjust="spacingAndGlyphs">20</text>
<line x1="465" y1="1529.6" x2="480.3" y2="1529.6" stroke="#000" stroke-width="3"/>
<text x="448" y="1538.7" font-size="26" font-weight="bold" fill="#000" textLength="14.89" lengthAdjust="spacingAndGlyphs">0</text>
<line x1="558" y1="1529.6" x2="558" y2="1543.6" stroke="#000" stroke-width="3.4"/>
<text x="537.38" y="1568.5" font-size="27" font-weight="bold" fill="#000" textLength="40.5" lengthAdjust="spacingAndGlyphs">MS</text>
<line x1="675.2" y1="1529.6" x2="675.2" y2="1543.6" stroke="#000" stroke-width="3.4"/>
<text x="657.33" y="1568.5" font-size="27" font-weight="bold" fill="#000" textLength="36.02" lengthAdjust="spacingAndGlyphs">SS</text>
<circle cx="558.7" cy="1219.5" r="6.9"/>
<circle cx="545.7" cy="1305.6" r="6.9"/>
<circle cx="571.6" cy="1317.6" r="6.9"/>
<circle cx="584.6" cy="1328.9" r="6.9"/>
<circle cx="558.7" cy="1333.8" r="6.9"/>
<circle cx="532.8" cy="1340.3" r="6.9"/>
<circle cx="545.7" cy="1362.9" r="6.9"/>
<circle cx="571.6" cy="1363.9" r="6.9"/>
<circle cx="545.7" cy="1386.6" r="6.9"/>
<circle cx="571.6" cy="1393" r="6.9"/>
<rect x="653.3" y="1247.1" width="13.4" height="13.4"/>
<rect x="639.3" y="1264.6" width="13.4" height="13.4"/>
<rect x="668.5" y="1258.5" width="13.4" height="13.4"/>
<rect x="683.4" y="1264.6" width="13.4" height="13.4"/>
<rect x="698.6" y="1264.6" width="13.4" height="13.4"/>
<rect x="668.5" y="1333.6" width="13.4" height="13.4"/>
<rect x="653.3" y="1362.7" width="13.4" height="13.4"/>
<rect x="668.5" y="1369.2" width="13.4" height="13.4"/>
<rect x="683.4" y="1369.2" width="13.4" height="13.4"/>
<rect x="668.5" y="1483.4" width="13.4" height="13.4"/>
<line x1="559" y1="1319.9" x2="559" y2="1350.9" stroke="#000" stroke-width="3"/>
<line x1="540.4" y1="1319.9" x2="577.6" y2="1319.9" stroke="#000" stroke-width="3.6"/>
<line x1="540.4" y1="1350.9" x2="577.6" y2="1350.9" stroke="#000" stroke-width="3.6"/>
<line x1="675.2" y1="1303.7" x2="675.2" y2="1352.2" stroke="#000" stroke-width="3"/>
<line x1="656.2" y1="1303.7" x2="694.2" y2="1303.7" stroke="#000" stroke-width="3.6"/>
<line x1="656.2" y1="1352.2" x2="694.2" y2="1352.2" stroke="#000" stroke-width="3.6"/>
<line x1="559" y1="1189.1" x2="670.7" y2="1189.1" stroke="#111" stroke-width="2"/>
<line x1="559" y1="1181.7" x2="559" y2="1197.8" stroke="#444" stroke-width="2.4"/>
<line x1="670.7" y1="1181.7" x2="670.7" y2="1197.8" stroke="#444" stroke-width="2.4"/>
<text x="588.01" y="1176.8" font-size="18.49" font-weight="normal" fill="#1a1a1a" textLength="59.88" lengthAdjust="spacingAndGlyphs" stroke="#1a1a1a" stroke-width="0.3">0.6969</text>
<text x="575.91" y="1105.8" font-size="33.16" font-weight="bold" fill="#000" textLength="69.59" lengthAdjust="spacingAndGlyphs">HDL</text>
<text x="522.08" y="1143.5" font-size="31.72" font-weight="bold" fill="#000" textLength="178.42" lengthAdjust="spacingAndGlyphs">cholesterol</text>
<text transform="translate(419.6 1398.63) rotate(-90)" x="0" y="0" font-size="29.38" font-weight="bold" fill="#000" textLength="80.93" lengthAdjust="spacingAndGlyphs">mg/dL</text>
<path d="M884.9 1529.6V1388.1H953.7V1529.6" fill="#6398d2" stroke="#000" stroke-width="5" stroke-linejoin="miter"/>
<path d="M1001.5 1529.6V1402H1071.5V1529.6" fill="#e93434" stroke="#000" stroke-width="5" stroke-linejoin="miter"/>
<line x1="825.8" y1="1529.6" x2="1117" y2="1529.6" stroke="#000" stroke-width="2.6"/>
<line x1="841" y1="1531.8" x2="1117" y2="1531.8" stroke="#555" stroke-width="1.6" stroke-dasharray="1.6 8.4"/>
<line x1="841" y1="1527.6" x2="1117" y2="1527.6" stroke="#777" stroke-width="1" stroke-dasharray="1.6 8.4"/>
<line x1="841" y1="1174.9" x2="841" y2="1530.9" stroke="#000" stroke-width="2.9"/>
<line x1="826" y1="1176.2" x2="841" y2="1176.2" stroke="#000" stroke-width="3"/>
<text x="777" y="1185.65" font-size="27" font-weight="bold" fill="#000" textLength="45.05" lengthAdjust="spacingAndGlyphs">400</text>
<line x1="826" y1="1264.9" x2="841" y2="1264.9" stroke="#000" stroke-width="3"/>
<text x="777" y="1274.35" font-size="27" font-weight="bold" fill="#000" textLength="45.05" lengthAdjust="spacingAndGlyphs">300</text>
<line x1="826" y1="1353.2" x2="841" y2="1353.2" stroke="#000" stroke-width="3"/>
<text x="777" y="1362.65" font-size="27" font-weight="bold" fill="#000" textLength="45.05" lengthAdjust="spacingAndGlyphs">200</text>
<line x1="826" y1="1441.6" x2="841" y2="1441.6" stroke="#000" stroke-width="3"/>
<text x="777" y="1451.05" font-size="27" font-weight="bold" fill="#000" textLength="45.05" lengthAdjust="spacingAndGlyphs">100</text>
<line x1="826" y1="1529.6" x2="841" y2="1529.6" stroke="#000" stroke-width="3"/>
<text x="807" y="1539.05" font-size="27" font-weight="bold" fill="#000" textLength="15.02" lengthAdjust="spacingAndGlyphs">0</text>
<line x1="918.7" y1="1529.6" x2="918.7" y2="1543.6" stroke="#000" stroke-width="3.4"/>
<text x="898.08" y="1568.5" font-size="27" font-weight="bold" fill="#000" textLength="40.5" lengthAdjust="spacingAndGlyphs">MS</text>
<line x1="1036.2" y1="1529.6" x2="1036.2" y2="1543.6" stroke="#000" stroke-width="3.4"/>
<text x="1018.33" y="1568.5" font-size="27" font-weight="bold" fill="#000" textLength="36.02" lengthAdjust="spacingAndGlyphs">SS</text>
<circle cx="908.3" cy="1277.2" r="6.9"/>
<circle cx="927.7" cy="1279.7" r="6.9"/>
<circle cx="888.9" cy="1374.3" r="6.9"/>
<circle cx="908.3" cy="1372.6" r="6.9"/>
<circle cx="927.7" cy="1371.7" r="6.9"/>
<circle cx="947.2" cy="1372.6" r="6.9"/>
<circle cx="908.3" cy="1427.7" r="6.9"/>
<circle cx="927.7" cy="1431.9" r="6.9"/>
<circle cx="908.3" cy="1473" r="6.9"/>
<circle cx="927.7" cy="1473" r="6.9"/>
<rect x="1029.5" y="1285" width="13.4" height="13.4"/>
<rect x="1029.5" y="1332.6" width="13.4" height="13.4"/>
<rect x="1010" y="1356.2" width="13.4" height="13.4"/>
<rect x="1048.9" y="1364.3" width="13.4" height="13.4"/>
<rect x="1048.9" y="1382.1" width="13.4" height="13.4"/>
<rect x="1010" y="1398.3" width="13.4" height="13.4"/>
<rect x="1010" y="1438.8" width="13.4" height="13.4"/>
<rect x="1010" y="1448.5" width="13.4" height="13.4"/>
<rect x="1048.9" y="1447.8" width="13.4" height="13.4"/>
<rect x="1048.9" y="1469.5" width="13.4" height="13.4"/>
<line x1="918.7" y1="1362.9" x2="918.7" y2="1406.6" stroke="#000" stroke-width="3"/>
<line x1="899.6" y1="1362.9" x2="937.8" y2="1362.9" stroke="#000" stroke-width="3.6"/>
<line x1="899.6" y1="1406.6" x2="937.8" y2="1406.6" stroke="#000" stroke-width="3.6"/>
<line x1="1036.2" y1="1380.7" x2="1036.2" y2="1418" stroke="#000" stroke-width="3"/>
<line x1="1016.7" y1="1380.7" x2="1055.7" y2="1380.7" stroke="#000" stroke-width="3.6"/>
<line x1="1016.7" y1="1418" x2="1055.7" y2="1418" stroke="#000" stroke-width="3.6"/>
<line x1="913.2" y1="1192.3" x2="1024.2" y2="1192.3" stroke="#111" stroke-width="2.2"/>
<line x1="913.2" y1="1184.9" x2="913.2" y2="1199.5" stroke="#444" stroke-width="2.6"/>
<line x1="1024.2" y1="1184.9" x2="1024.2" y2="1199.5" stroke="#444" stroke-width="2.6"/>
<text x="938.28" y="1184.9" font-size="20.93" font-weight="normal" fill="#1a1a1a" textLength="61.66" lengthAdjust="spacingAndGlyphs" stroke="#1a1a1a" stroke-width="0.3">0.7530</text>
<text x="867.85" y="1125.3" font-size="33.52" font-weight="bold" fill="#000" textLength="206.3" lengthAdjust="spacingAndGlyphs">Triglycerides</text>
<text transform="translate(765.9 1402.32) rotate(-90)" x="0" y="0" font-size="28.69" font-weight="bold" fill="#000" textLength="86.96" lengthAdjust="spacingAndGlyphs">mg/dL</text>
<path d="M1249.8 1531.4V1346.1H1323.5V1531.4" fill="#6398d2" stroke="#000" stroke-width="5" stroke-linejoin="miter"/>
<path d="M1371.9 1531.4V1363.2H1445.5V1531.4" fill="#e93434" stroke="#000" stroke-width="5" stroke-linejoin="miter"/>
<line x1="1190.2" y1="1531.4" x2="1490" y2="1531.4" stroke="#000" stroke-width="2.6"/>
<line x1="1205.2" y1="1533.6" x2="1490" y2="1533.6" stroke="#555" stroke-width="1.6" stroke-dasharray="1.6 8.4"/>
<line x1="1205.2" y1="1529.4" x2="1490" y2="1529.4" stroke="#777" stroke-width="1" stroke-dasharray="1.6 8.4"/>
<line x1="1205.2" y1="1169.7" x2="1205.2" y2="1532.7" stroke="#000" stroke-width="2.9"/>
<line x1="1190.6" y1="1171" x2="1205.2" y2="1171" stroke="#000" stroke-width="3"/>
<text x="1148.39" y="1180.1" font-size="26" font-weight="bold" fill="#000" textLength="36.87" lengthAdjust="spacingAndGlyphs">1.5</text>
<line x1="1190.6" y1="1291.1" x2="1205.2" y2="1291.1" stroke="#000" stroke-width="3"/>
<text x="1148.64" y="1300.2" font-size="26" font-weight="bold" fill="#000" textLength="36.87" lengthAdjust="spacingAndGlyphs">1.0</text>
<line x1="1190.6" y1="1410.6" x2="1205.2" y2="1410.6" stroke="#000" stroke-width="3"/>
<text x="1148.39" y="1419.7" font-size="26" font-weight="bold" fill="#000" textLength="36.87" lengthAdjust="spacingAndGlyphs">0.5</text>
<line x1="1190.6" y1="1531.4" x2="1205.2" y2="1531.4" stroke="#000" stroke-width="3"/>
<text x="1148.64" y="1540.5" font-size="26" font-weight="bold" fill="#000" textLength="36.87" lengthAdjust="spacingAndGlyphs">0.0</text>
<line x1="1286.2" y1="1531.4" x2="1286.2" y2="1545.4" stroke="#000" stroke-width="3.4"/>
<text x="1265.58" y="1575" font-size="27" font-weight="bold" fill="#000" textLength="40.5" lengthAdjust="spacingAndGlyphs">MS</text>
<line x1="1408.2" y1="1531.4" x2="1408.2" y2="1545.4" stroke="#000" stroke-width="3.4"/>
<text x="1390.33" y="1575" font-size="27" font-weight="bold" fill="#000" textLength="36.02" lengthAdjust="spacingAndGlyphs">SS</text>
<circle cx="1273.2" cy="1298.3" r="6.9"/>
<circle cx="1300.7" cy="1302.5" r="6.9"/>
<circle cx="1273.2" cy="1313.5" r="6.9"/>
<circle cx="1300.7" cy="1331.6" r="6.9"/>
<circle cx="1313.7" cy="1344.6" r="6.9"/>
<circle cx="1259.3" cy="1352.3" r="6.9"/>
<circle cx="1286.2" cy="1362" r="6.9"/>
<circle cx="1259.3" cy="1369.5" r="6.9"/>
<circle cx="1286.2" cy="1376" r="6.9"/>
<circle cx="1313.7" cy="1388" r="6.9"/>
<rect x="1391.2" y="1292.5" width="13.4" height="13.4"/>
<rect x="1412.2" y="1303.5" width="13.4" height="13.4"/>
<rect x="1370.1" y="1366" width="13.4" height="13.4"/>
<rect x="1391.2" y="1356.3" width="13.4" height="13.4"/>
<rect x="1412.2" y="1354.7" width="13.4" height="13.4"/>
<rect x="1431.6" y="1354.7" width="13.4" height="13.4"/>
<rect x="1391.2" y="1383.8" width="13.4" height="13.4"/>
<rect x="1412.2" y="1386.4" width="13.4" height="13.4"/>
<rect x="1431.6" y="1387.7" width="13.4" height="13.4"/>
<line x1="1286.2" y1="1312.2" x2="1286.2" y2="1374.3" stroke="#000" stroke-width="3"/>
<line x1="1267.2" y1="1312.2" x2="1305.2" y2="1312.2" stroke="#000" stroke-width="3.6"/>
<line x1="1267.2" y1="1374.3" x2="1305.2" y2="1374.3" stroke="#000" stroke-width="3.6"/>
<line x1="1408.2" y1="1329" x2="1408.2" y2="1393.8" stroke="#000" stroke-width="3"/>
<line x1="1388" y1="1329" x2="1428.4" y2="1329" stroke="#000" stroke-width="3.6"/>
<line x1="1388" y1="1393.8" x2="1428.4" y2="1393.8" stroke="#000" stroke-width="3.6"/>
<line x1="1278.1" y1="1194" x2="1388.8" y2="1194" stroke="#111" stroke-width="2.4"/>
<line x1="1278.1" y1="1186.6" x2="1278.1" y2="1202.7" stroke="#444" stroke-width="2.6"/>
<line x1="1388.8" y1="1186.6" x2="1388.8" y2="1202.7" stroke="#444" stroke-width="2.6"/>
<text x="1296.72" y="1185" font-size="18.64" font-weight="normal" fill="#1a1a1a" textLength="59.72" lengthAdjust="spacingAndGlyphs" stroke="#1a1a1a" stroke-width="0.3">0.1830</text>
<text x="1295.84" y="1124.1" font-size="33.98" font-weight="bold" fill="#000" textLength="66.45" lengthAdjust="spacingAndGlyphs">LPS</text>
<text transform="translate(1130.7 1406.97) rotate(-90)" x="0" y="0" font-size="31.86" font-weight="bold" fill="#000" textLength="88.89" lengthAdjust="spacingAndGlyphs">pg/mL</text>
</svg>
</body></html>
